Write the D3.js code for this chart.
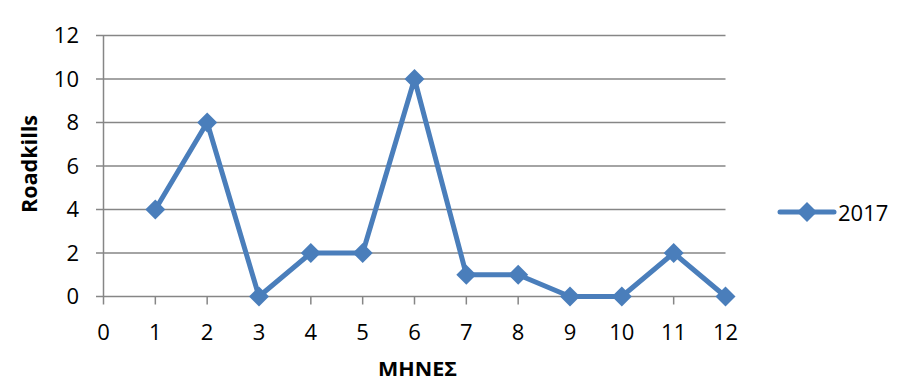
<!DOCTYPE html>
<html>
<head>
<meta charset="utf-8">
<script src="https://cdn.jsdelivr.net/npm/d3@7/dist/d3.min.js"></script>
<style>
  html, body { margin: 0; padding: 0; background: #fff; }
  svg text { font-family: "Open Sans", "Liberation Sans", sans-serif; fill: #000; }
</style>
</head>
<body>
<svg id="chart" width="913" height="382"></svg>
<script>
// Monthly roadkill counts, 2017
const months = [1, 2, 3, 4, 5, 6, 7, 8, 9, 10, 11, 12];
const roadkills2017 = [4, 8, 0, 2, 2, 10, 1, 1, 0, 0, 2, 0];
const xTicks = [0, 1, 2, 3, 4, 5, 6, 7, 8, 9, 10, 11, 12];
const yTicks = [0, 2, 4, 6, 8, 10, 12];
const seriesName = "2017";
const xTitle = "ΜΗΝΕΣ";
const yTitle = "Roadkills";

const svg = d3.select("#chart");
const lineColor = "#4A7EBB";
const gridColor = "#868686";

const x = d3.scaleLinear().domain([0, 12]).range([103.5, 725.5]);
const y = d3.scaleLinear().domain([0, 12]).range([296.5, 35.5]);

// horizontal gridlines with left tick stubs
svg.append("g").selectAll("line").data(yTicks).join("line")
  .attr("x1", 96).attr("x2", x(12))
  .attr("y1", d => y(d)).attr("y2", d => y(d))
  .attr("stroke", gridColor).attr("stroke-width", 1.5);

// y axis line
svg.append("line")
  .attr("x1", x(0)).attr("x2", x(0))
  .attr("y1", y(12)).attr("y2", y(0))
  .attr("stroke", gridColor).attr("stroke-width", 1.5);

// x tick marks
svg.append("g").selectAll("line").data(xTicks).join("line")
  .attr("x1", d => x(d)).attr("x2", d => x(d))
  .attr("y1", y(0)).attr("y2", y(0) + 8)
  .attr("stroke", gridColor).attr("stroke-width", 1.5);

// y labels
svg.append("g").selectAll("text").data(yTicks).join("text")
  .attr("x", 79).attr("y", d => y(d))
  .attr("dy", "0.36em").attr("text-anchor", "end")
  .attr("font-size", 22).text(d => d);

// x labels
svg.append("g").selectAll("text").data(xTicks).join("text")
  .attr("x", d => x(d)).attr("y", 332)
  .attr("dy", "0.36em").attr("text-anchor", "middle")
  .attr("font-size", 22).text(d => d);

// axis titles
svg.append("text")
  .attr("transform", `translate(37, 164) rotate(-90)`)
  .attr("text-anchor", "middle").attr("font-size", 21).attr("font-weight", "bold")
  .attr("textLength", 98).attr("lengthAdjust", "spacingAndGlyphs")
  .text(yTitle);

svg.append("text")
  .attr("x", 417.5).attr("y", 376)
  .attr("text-anchor", "middle").attr("font-size", 19).attr("font-weight", "bold")
  .attr("textLength", 79).attr("lengthAdjust", "spacingAndGlyphs")
  .text(xTitle);

// series line
const line = d3.line().x((d, i) => x(months[i])).y(d => y(d));
svg.append("path")
  .datum(roadkills2017)
  .attr("d", line)
  .attr("fill", "none").attr("stroke", lineColor)
  .attr("stroke-width", 5).attr("stroke-linejoin", "round");

const marker = d3.symbol().type(d3.symbolSquare).size(200);
svg.append("g").selectAll("path").data(roadkills2017).join("path")
  .attr("transform", (d, i) => `translate(${x(months[i])},${y(d)}) rotate(45)`)
  .attr("d", marker)
  .attr("fill", lineColor);

// legend
const lg = svg.append("g").attr("transform", "translate(780, 212)");
lg.append("line").attr("x1", 0).attr("x2", 54).attr("y1", 0).attr("y2", 0)
  .attr("stroke", lineColor).attr("stroke-width", 5).attr("stroke-linecap", "round");
lg.append("path").attr("transform", "translate(27,0) rotate(45)")
  .attr("d", marker).attr("fill", lineColor);
lg.append("text").attr("x", 58).attr("y", 1).attr("dy", "0.36em")
  .attr("font-size", 22).text(seriesName);
</script>
</body>
</html>
